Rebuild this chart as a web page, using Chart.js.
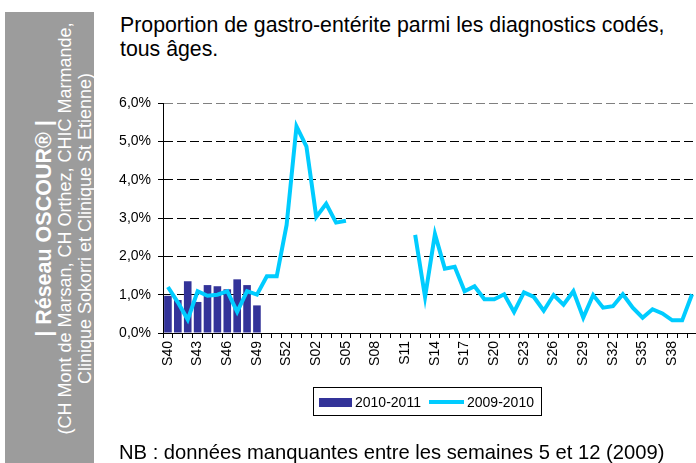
<!DOCTYPE html>
<html>
<head>
<meta charset="utf-8">
<script src="https://cdn.jsdelivr.net/npm/chart.js@4/dist/chart.umd.min.js"></script>
<style>
  html, body { margin:0; padding:0; background:#fff; overflow:hidden; width:696px; height:463px; }
  body { position:relative; font-family:"Liberation Sans", Arial, sans-serif; }
  #wrap { position:absolute; left:0; top:0; width:720px; height:463px; }
  #panel { position:absolute; left:5px; top:12px; width:89px; height:451px; background:#9c9c9c; overflow:hidden; }
  #rot { position:absolute; width:460px; height:89px; left:-185.5px; top:172px; transform:rotate(-90deg);
         display:flex; flex-direction:column; justify-content:flex-end; align-items:center; color:#fff; padding-bottom:0px; box-sizing:border-box; }
  #rot .b { font-weight:bold; font-size:21.5px; line-height:21px; white-space:nowrap; }
  #rot .n { font-size:18px; line-height:20px; white-space:nowrap; }
  #title { position:absolute; left:120px; top:13px; font-size:21.3px; line-height:24px; color:#000; white-space:nowrap; }
  #nb { position:absolute; left:119px; top:440px; font-size:20.2px; line-height:24px; color:#000; white-space:nowrap; }
  #legend { position:absolute; left:313px; top:387px; width:229px; height:29px; border:1px solid #000; box-sizing:border-box; font-size:14px; }
  #legend .sw1 { position:absolute; left:5px; top:10px; width:33px; height:9px; background:#333399; }
  #legend .t1 { position:absolute; left:41px; top:6px; line-height:16px; }
  #legend .sw2 { position:absolute; left:115px; top:12px; width:35px; height:4px; background:#00CCFF; }
  #legend .t2 { position:absolute; left:153px; top:6px; line-height:16px; }
</style>
</head>
<body>
<div id="panel">
  <div id="rot">
    <div class="b">| Réseau OSCOUR® |</div>
    <div class="n">(CH Mont de Marsan, CH Orthez, CHIC Marmande,</div>
    <div class="n">Clinique Sokorri et Clinique St Etienne)</div>
  </div>
</div>
<div id="title">Proportion de gastro-entérite parmi les diagnostics codés,<br>tous âges.</div>
<div id="wrap"><canvas id="c" width="720" height="463"></canvas></div>
<div id="legend">
  <div class="sw1"></div><div class="t1">2010-2011</div>
  <div class="sw2"></div><div class="t2">2009-2010</div>
</div>
<div id="nb">NB : données manquantes entre les semaines 5 et 12 (2009)</div>
<script>
const categories = ["S40","S41","S42","S43","S44","S45","S46","S47","S48","S49","S50","S51","S52","S53",
  "S01","S02","S03","S04","S05","S06","S07","S08","S09","S10","S11","S12","S13","S14","S15","S16","S17",
  "S18","S19","S20","S21","S22","S23","S24","S25","S26","S27","S28","S29","S30","S31","S32","S33","S34",
  "S35","S36","S37","S38","S39","S40"];
const season2010_2011 = [0.97,0.86,1.35,0.81,1.25,1.22,1.14,1.40,1.25,0.72,
  null,null,null,null,null,null,null,null,null,null,null,null,null,null,null,null,null,null,null,null,null,
  null,null,null,null,null,null,null,null,null,null,null,null,null,null,null,null,null,null,null,null,null,null,null];
const season2009_2010 = [1.20,0.80,0.35,1.09,0.97,1.00,1.09,0.55,1.09,1.00,1.48,1.48,2.82,5.39,
  4.87,3.03,3.37,2.88,2.93,null,null,null,null,null,null,2.56,0.94,2.58,1.68,1.73,1.09,
  1.22,0.88,0.88,1.01,0.55,1.06,0.94,0.58,0.99,0.74,1.09,0.40,0.99,0.66,0.70,1.01,0.66,
  0.40,0.62,0.51,0.33,0.33,1.01];
const yTicks = [0,1,2,3,4,5,6];

const font = { family: "'Liberation Sans', Arial, sans-serif" };
new Chart(document.getElementById('c'), {
  type: 'bar',
  data: {
    labels: categories,
    datasets: [
      { type:'line', label:'2009-2010', data: season2009_2010, borderColor:'#00CCFF', backgroundColor:'#00CCFF',
        borderWidth:4, pointRadius:0, pointHoverRadius:0, tension:0, spanGaps:false, order:0, fill:false },
      { type:'bar', label:'2010-2011', data: season2010_2011, backgroundColor:'#333399', borderWidth:0,
        categoryPercentage:1.0, barPercentage:0.77, order:1 }
    ]
  },
  options: {
    responsive:false, animation:false, devicePixelRatio:1,
    layout: { padding: { left:103, top:103, right:23, bottom:80 } },
    plugins: { legend:{ display:false }, tooltip:{ enabled:false }, title:{ display:false } },
    scales: {
      x: {
        offset:true,
        afterFit: s => { s.height = 50; },
        grid: { display:true, offset:true, drawOnChartArea:false, drawTicks:true, tickLength:5, tickColor:'#000', color:'#000', tickBorderDash:[] },
        border: { display:true, color:'#000', width:1 },
        ticks: { autoSkip:false, maxRotation:90, minRotation:90, padding:3, color:'#000',
          font: Object.assign({ size:14 }, font),
          callback: function(v, i) { return i % 3 === 0 ? categories[i] : ''; } }
      },
      y: {
        min:0, max:6,
        afterFit: s => { s.width = 60; },
        afterBuildTicks: s => { s.ticks = yTicks.map(v => ({ value:v })); },
        grid: { display:true, drawTicks:true, tickLength:5, tickColor:'#000', tickBorderDash:[],
          color: c => (c.tick && c.tick.value === 6) ? '#808080' : '#000', lineWidth:1 },
        border: { display:true, color:'#000', width:1, dash:[9,4] },
        ticks: { padding:7, color:'#000', font: Object.assign({ size:14 }, font),
          callback: v => v.toFixed(1).replace('.', ',') + '%' }
      }
    }
  }
});
</script>
</body>
</html>
